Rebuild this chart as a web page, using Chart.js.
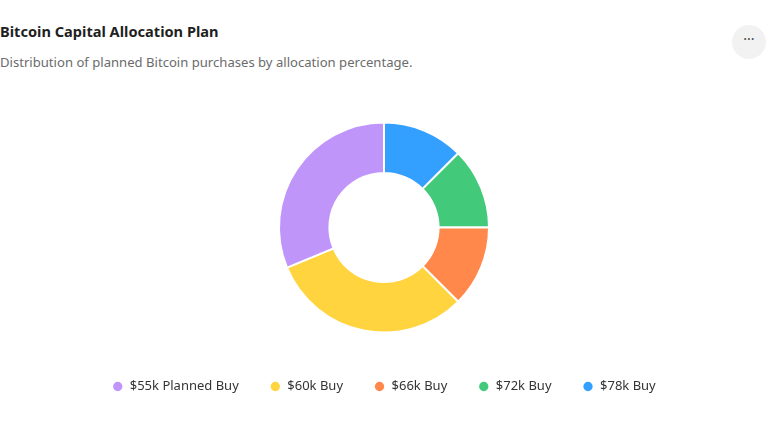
<!DOCTYPE html>
<html>
<head>
<meta charset="utf-8">
<script src="https://cdn.jsdelivr.net/npm/chart.js@4.4.1/dist/chart.umd.min.js"></script>
<style>
  html, body { margin: 0; padding: 0; background: #fff; }
  body { width: 768px; height: 432px; position: relative; overflow: hidden; font-family: "Noto Sans", sans-serif; }
  .title { position: absolute; left: 0; top: 21px; font-size: 14.6px; font-weight: 700; color: #1f1f1f; }
  .subtitle { position: absolute; left: 0; top: 53px; font-size: 13.1px; color: #6b6b6b; }
  .more { position: absolute; left: 732px; top: 25px; width: 34px; height: 34px; border-radius: 50%; background: #f2f2f2; color: #444; text-align: center; line-height: 28px; font-size: 14px; }
  .wrap { position: absolute; left: 0; top: 106px; width: 768px; height: 297px; }
</style>
</head>
<body>
<div class="title">Bitcoin Capital Allocation Plan</div>
<div class="subtitle">Distribution of planned Bitcoin purchases by allocation percentage.</div>
<div class="more">···</div>
<div class="wrap"><canvas id="chart"></canvas></div>
<script>
// drawn counter-clockwise in the reference, so data is listed reversed and legend reversed back
const labels = ['$55k Planned Buy', '$60k Buy', '$66k Buy', '$72k Buy', '$78k Buy'];
const allocation = [25, 25, 10, 10, 10];
const colors = ['#c095fa', '#ffd43f', '#ff884a', '#42c97a', '#339fff'];

const ctx = document.getElementById('chart').getContext('2d');

const chart = new Chart(ctx, {
  type: 'doughnut',
  data: {
    labels: labels.slice().reverse(),
    datasets: [{
      data: allocation.slice().reverse(),
      backgroundColor: colors.slice().reverse(),
      borderColor: '#ffffff',
      borderWidth: 2,
      radius: 105,
      cutout: '52%',
    }],
  },
  options: {
    responsive: true,
    maintainAspectRatio: false,
    animation: false,
    layout: { padding: 0 },
    plugins: {
      legend: {
        position: 'bottom',
        reverse: true,
        labels: {
          usePointStyle: true,
          pointStyle: 'circle',
          boxWidth: 11,
          boxHeight: 8,
          padding: 31,
          color: '#333333',
          font: { family: '"Noto Sans", sans-serif', size: 13 },
        },
      },
      tooltip: { enabled: false },
    },
  },
});
</script>
</body>
</html>
